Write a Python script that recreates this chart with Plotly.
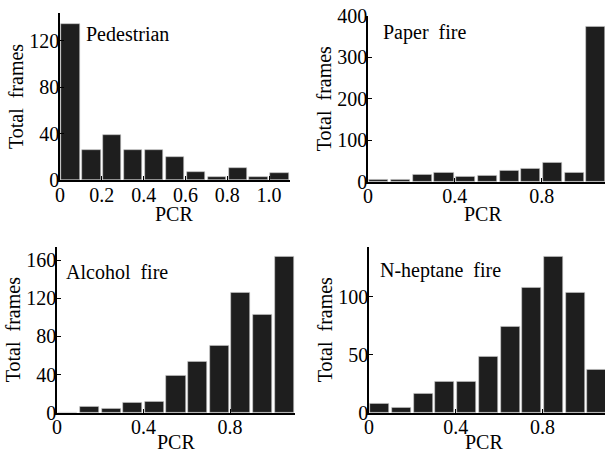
import plotly.graph_objects as go

# ---- data ----
bin_centers = [0.05, 0.15, 0.25, 0.35, 0.45, 0.55, 0.65, 0.75, 0.85, 0.95, 1.05]
pedestrian = [134, 26, 39, 26, 26, 20, 7, 3, 10, 3, 6]
paper_fire = [5, 5, 16, 22, 13, 15, 27, 31, 45, 22, 373]
alcohol_fire = [0, 6, 4, 10, 12, 39, 53, 70, 126, 103, 163]
nheptane_fire = [8, 4, 16, 27, 27, 48, 74, 108, 134, 103, 37]

panel_names = ["Pedestrian", "Paper  fire", "Alcohol  fire", "N-heptane  fire"]
series = [pedestrian, paper_fire, alcohol_fire, nheptane_fire]

x_ticks = [[0, 0.2, 0.4, 0.6, 0.8, 1.0], [0, 0.4, 0.8], [0, 0.4, 0.8], [0, 0.4, 0.8]]
x_ticklabels = [["0", "0.2", "0.4", "0.6", "0.8", "1.0"], ["0", "0.4", "0.8"],
                ["0", "0.4", "0.8"], ["0", "0.4", "0.8"]]
y_ticks = [[0, 40, 80, 120], [0, 100, 200, 300, 400], [0, 40, 80, 120, 160], [0, 50, 100]]
x_title = "PCR"
y_title = "Total  frames"

# ---- layout geometry (pixels) ----
W, H = 605, 455
# (left, right, top, bottom) in px
boxes = [(60, 290, 13, 180), (368, 605, 15.7, 181.7), (57, 295, 246.7, 412.7), (369, 605, 246.7, 412.7)]
x_max = [1.1, 1.092, 1.1, 1.0876]
y_max = [143.7, 400, 174, 143]
label_pos = [(84, 34), (381, 33), (64, 272), (378, 270)]
xtitle_pos = [(174, 227), (483, 227), (176, 455), (484, 455)]  # centre x, bottom y

FONT = "Liberation Serif, Times New Roman, serif"
fig = go.Figure()
for i, vals in enumerate(series):
    n = i + 1
    xa = "x" if n == 1 else f"x{n}"
    ya = "y" if n == 1 else f"y{n}"
    fig.add_trace(go.Bar(
        x=bin_centers, y=vals, width=0.088,
        marker=dict(color="#1e1e1e", line=dict(color="#c8c8c8", width=0.6)),
        xaxis=xa, yaxis=ya, showlegend=False,
    ))
    l, r, t, b = boxes[i]
    axis_common = dict(showline=True, linecolor="black", linewidth=1.5, ticks="inside",
                       ticklen=4, tickcolor="black", showgrid=False, zeroline=False,
                       tickfont=dict(family=FONT, size=20, color="black"), automargin=False)
    fig.layout[f"xaxis{'' if n == 1 else n}"] = dict(
        domain=[l / W, r / W], range=[0, x_max[i]], anchor=ya,
        tickvals=x_ticks[i], ticktext=x_ticklabels[i], ticklabelstandoff=-4,
        **axis_common)
    fig.layout[f"yaxis{'' if n == 1 else n}"] = dict(
        domain=[1 - b / H, 1 - t / H], range=[0, y_max[i]], anchor=xa,
        tickvals=y_ticks[i], ticklabelstandoff=-5,
        title=dict(text=y_title, font=dict(family=FONT, size=20, color="black"), standoff=0),
        **axis_common)
    fig.add_annotation(text=panel_names[i], xref="paper", yref="paper",
                       x=label_pos[i][0] / W, y=1 - label_pos[i][1] / H,
                       xanchor="left", yanchor="middle", showarrow=False,
                       font=dict(family=FONT, size=20, color="black"))
    fig.add_annotation(text=x_title, xref="paper", yref="paper",
                       x=xtitle_pos[i][0] / W, y=1 - xtitle_pos[i][1] / H,
                       xanchor="center", yanchor="bottom", showarrow=False,
                       font=dict(family=FONT, size=20, color="black"))

fig.update_layout(width=W, height=H, margin=dict(l=0, r=0, t=0, b=0),
                  plot_bgcolor="white", paper_bgcolor="white", bargap=0)
fig.write_html("out.html", config={"displayModeBar": False},
               post_script="document.body.style.margin='0';document.body.style.overflow='hidden';")
